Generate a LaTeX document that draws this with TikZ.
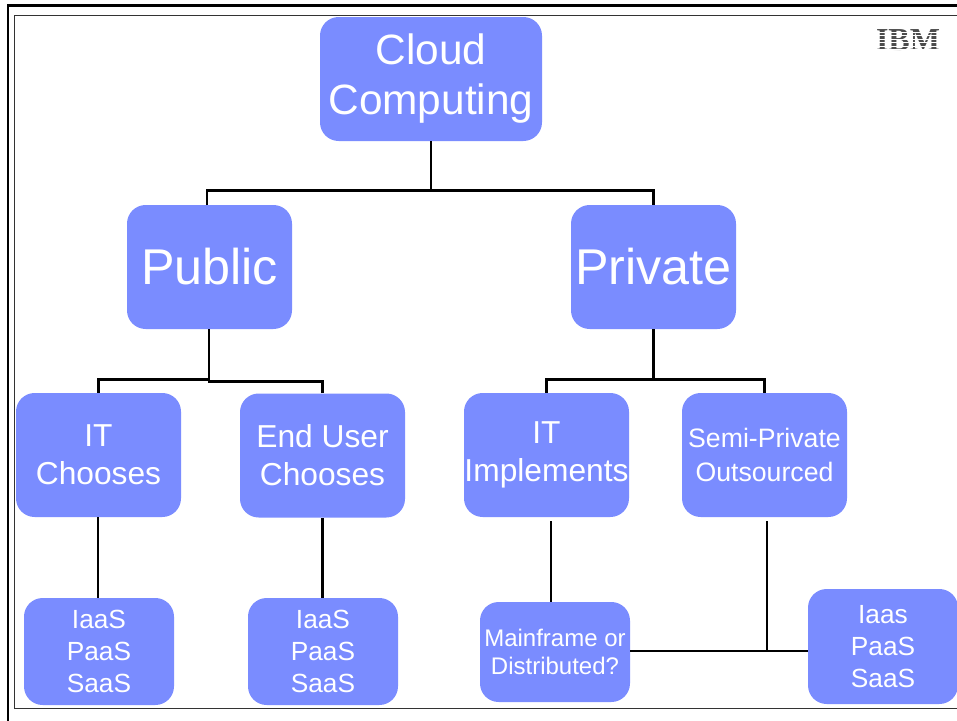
\documentclass[tikz,border=0pt]{standalone}
\usepackage{fontspec}
\usetikzlibrary{calc}
\setmainfont{Liberation Sans}
\newfontfamily\logofont{Liberation Serif}
\definecolor{boxblue}{RGB}{122,140,255}
\tikzset{
  x=0.75pt,y=-0.75pt,
  box/.style={draw=none,fill=boxblue,rounded corners=14pt,text=white,align=center,inner sep=0pt,anchor=center},
  link/.style={draw=black,line width=2.2pt,line cap=butt,line join=miter},
  framethick/.style={draw=black,line width=2.2pt},
  framethin/.style={draw=black!80,line width=1.1pt},
}
\begin{document}
\begin{tikzpicture}
\useasboundingbox (0,0) rectangle (957,721);
\fill[white] (0,0) rectangle (957,721);
% frames
\draw[framethick] (8,721) -- (8,5.5) -- (957,5.5);
\draw[framethin] (14.5,709) -- (14.5,15.5) -- (957,15.5);
\draw[framethin] (14.5,708.5) -- (957,708.5);
% nodes
\node[box,minimum width=222*0.75pt,minimum height=124*0.75pt,font=\fontsize{31.8pt}{37.5pt}\selectfont] (cloud) at (431,79)
  {Cloud\hspace{9pt}\\Computing};
\node[box,minimum width=165*0.75pt,minimum height=124*0.75pt,font=\fontsize{37.7pt}{40pt}\selectfont] (public) at (209.5,267)
  {Public};
\node[box,minimum width=165*0.75pt,minimum height=124*0.75pt,font=\fontsize{37.7pt}{40pt}\selectfont] (private) at (653.5,267)
  {Private};
\node[box,minimum width=165*0.75pt,minimum height=124*0.75pt,font=\fontsize{23.8pt}{28.5pt}\selectfont] (itc) at (98.5,455)
  {IT\\Chooses};
\node[box,minimum width=165*0.75pt,minimum height=124*0.75pt,font=\fontsize{23.8pt}{28.5pt}\selectfont] (euc) at (322.5,455.5)
  {End User\\Chooses};
\node[box,minimum width=165*0.75pt,minimum height=124*0.75pt,font=\fontsize{23.8pt}{28.5pt}\selectfont] (iti) at (546.5,455)
  {IT\\Implements};
\node[box,minimum width=165*0.75pt,minimum height=124*0.75pt,font=\fontsize{20pt}{25pt}\selectfont] (semi) at (764.5,455)
  {Semi-Private\\Outsourced};
\node[box,minimum width=150*0.75pt,minimum height=107*0.75pt,font=\fontsize{19.7pt}{24pt}\selectfont] (s1) at (99,651.5)
  {IaaS\\PaaS\\SaaS};
\node[box,minimum width=150*0.75pt,minimum height=107*0.75pt,font=\fontsize{19.7pt}{24pt}\selectfont] (s2) at (323,651.5)
  {IaaS\\PaaS\\SaaS};
\node[box,minimum width=150*0.75pt,minimum height=100*0.75pt,font=\fontsize{18pt}{21.5pt}\selectfont] (main) at (555,652)
  {Mainframe or\\Distributed?};
\node[box,minimum width=150*0.75pt,minimum height=115*0.75pt,font=\fontsize{19.7pt}{24pt}\selectfont] (s3) at (883,646.5)
  {Iaas\\PaaS\\SaaS};
% IBM logo
\node[inner sep=0pt,text=black!70,font=\logofont\bfseries\fontsize{24pt}{24pt}\selectfont] (ibm) at (908,40) {IBM};
\foreach \yy in {31.5,35,38.5,42,45.5,49}{\fill[white] (870,\yy) rectangle (945,\yy+1.2);}
% junctions
\coordinate (j0) at ($(cloud.south)+(0,49)$);
\coordinate (j1) at ($(public.south)+(-0.5,50)$);
\coordinate (j2) at ($(private.south)+(0,50)$);
\draw[link] (cloud.south) -- (j0);
\draw[link] (207,205) |- (j0) -| (private.north);
\draw[link] (public.south -| j1) -- ($(j1)+(0,2)$);
\draw[link] (itc.north) |- (j1);
\draw[link] (euc.north) |- ($(j1)+(-1,2)$);
\draw[link] (private.south) -- (j2);
\draw[link] (iti.north) |- (j2) -| (semi.north);
\draw[link] (98,517) -- (98,598);
\draw[link] (euc.south) -- (s2.north -| euc.south);
\coordinate (a) at (551,521);
\coordinate (b) at (767,521);
\coordinate (c) at (767,651);
\draw[link] (a) -- (main.north -| a);
\draw[link] (main.east |- c) -- (s3.west |- c);
\draw[link] (b) -- (c);
\end{tikzpicture}
\end{document}
